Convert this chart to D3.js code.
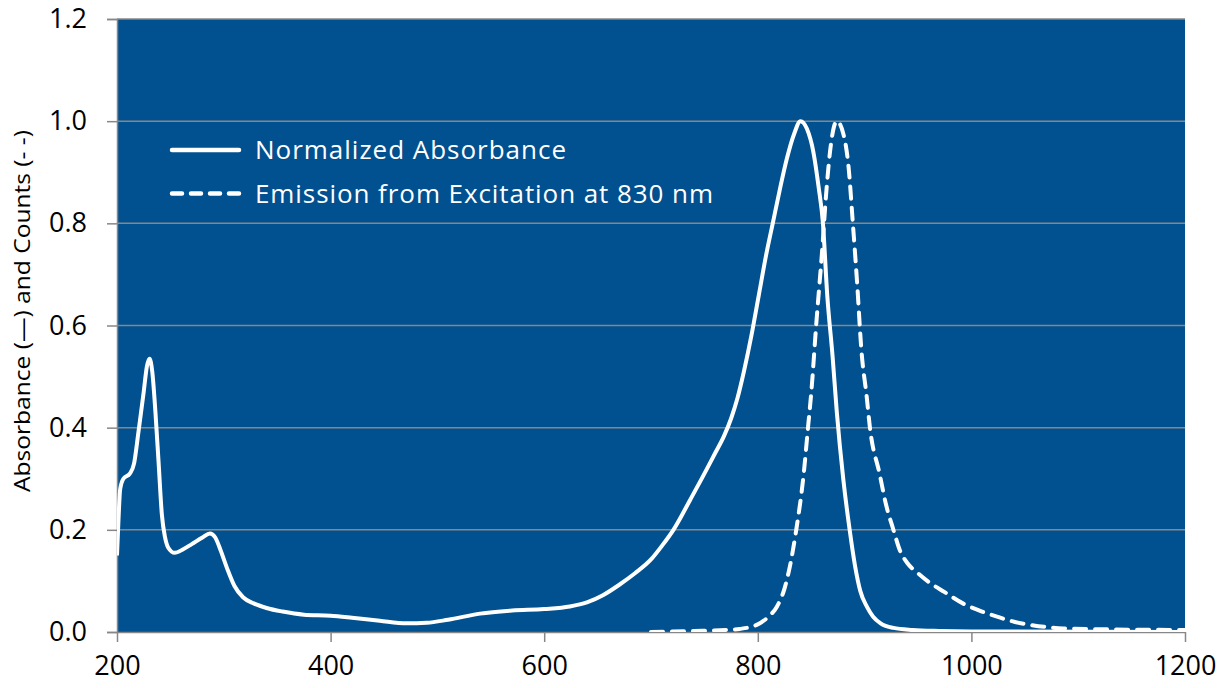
<!DOCTYPE html>
<html><head><meta charset="utf-8">
<script src="https://cdn.jsdelivr.net/npm/d3@7"></script>
<style>body{margin:0;background:#fff}svg{display:block}</style>
</head><body>
<svg id="chart" width="1220" height="688"></svg>
<script>
// Data
const absWavelength = [200,201,203,206,212,216,220,225,228,230.5,233,236,239,242,245,248,254,262,270,280,287,292,297,303,310,318,328,340,355,375,400,420,446,471,490,510,540,570,600,624,640,655,670,685,700,710,721,737,750,760,768,775,781,787,794,801,808,814,821,827,834,840,846,852,857,861,865,870,874,880,886,891,896,902,908,915,927,945,970,1000,1200];
const absValue = [0.15,0.2,0.28,0.30,0.31,0.33,0.39,0.47,0.52,0.535,0.51,0.43,0.33,0.23,0.185,0.165,0.155,0.162,0.172,0.185,0.193,0.185,0.16,0.125,0.09,0.068,0.056,0.047,0.04,0.034,0.032,0.028,0.022,0.017,0.018,0.024,0.036,0.042,0.045,0.05,0.058,0.072,0.092,0.115,0.142,0.168,0.2,0.26,0.31,0.35,0.382,0.418,0.458,0.51,0.58,0.66,0.74,0.80,0.87,0.925,0.975,1.0,0.985,0.94,0.87,0.80,0.66,0.54,0.43,0.30,0.20,0.13,0.08,0.05,0.03,0.017,0.008,0.004,0.002,0.001,0.0];
const emWavelength = [700,740,770,783,799,810,818,825,830,836,843,847,850,855,860,864.5,869,874,880,885,889,893,897,902,905,914,920,927,933,940,950,960,975,992,1010,1024,1040,1055,1086,1132,1200];
const emValue = [0.0,0.002,0.004,0.006,0.014,0.03,0.05,0.085,0.128,0.2,0.31,0.40,0.467,0.61,0.74,0.871,0.963,1.0,0.976,0.91,0.80,0.683,0.552,0.46,0.40,0.31,0.25,0.20,0.16,0.135,0.115,0.098,0.078,0.056,0.04,0.03,0.02,0.014,0.007,0.005,0.004];
const xTicks = [200,400,600,800,1000,1200];
const yTicks = [0,0.2,0.4,0.6,0.8,1.0,1.2];
const seriesNames = ["Normalized Absorbance","Emission from Excitation at 830 nm"];
const yTitle = "Absorbance (\u2014) and Counts (- -)";

const svg = d3.select("#chart");
const L = 117, R = 1185, T = 19, B = 632;
const x = d3.scaleLinear().domain([200,1200]).range([L,R]);
const y = d3.scaleLinear().domain([0,1.2]).range([B,T]);
const grey = "#878787";
const font = "'Open Sans', sans-serif";

svg.append("rect").attr("x",L).attr("y",T).attr("width",R-L).attr("height",B-T).attr("fill","#01508f");

// gridlines
svg.append("g").selectAll("line").data(yTicks.filter(d=>d>0)).join("line")
  .attr("x1",L).attr("x2",R).attr("y1",d=>y(d)).attr("y2",d=>y(d))
  .attr("stroke",grey).attr("stroke-width",1.5);

// axes
const yAxis = d3.axisLeft(y).tickValues(yTicks).tickFormat(d3.format(".1f")).tickSize(10).tickPadding(20);
const gy = svg.append("g").attr("transform",`translate(${L},0)`).call(yAxis);
const xAxis = d3.axisBottom(x).tickValues(xTicks).tickFormat(d3.format("d")).tickSize(10).tickPadding(14);
const gx = svg.append("g").attr("transform",`translate(0,${B})`).call(xAxis);
[gx,gy].forEach(g=>{
  g.select(".domain").attr("stroke",grey).attr("stroke-width",1.5);
  g.selectAll(".tick line").attr("stroke",grey).attr("stroke-width",1.5);
  g.selectAll(".tick text").attr("fill","#000").style("font-family",font).style("font-size","27px");
});
gx.select(".domain").attr("d",`M${L},0.5H${R}`);

// clip
svg.append("clipPath").attr("id","clip").append("rect").attr("x",L).attr("y",T-5).attr("width",R-L).attr("height",B-T+5);

const line = d3.line().x(d=>x(d[0])).y(d=>y(d[1])).curve(d3.curveMonotoneX);
const absData = absWavelength.map((w,i)=>[w,absValue[i]]);
const emData = emWavelength.map((w,i)=>[w,emValue[i]]);
const plot = svg.append("g").attr("clip-path","url(#clip)");
plot.append("path").datum(emData).attr("d",line).attr("fill","none").attr("stroke","#fff")
  .attr("stroke-width",4).attr("stroke-dasharray","12,9").attr("stroke-linecap","round");
plot.append("path").datum(absData).attr("d",line).attr("fill","none").attr("stroke","#fff")
  .attr("stroke-width",4).attr("stroke-linejoin","round");

// legend
const leg = svg.append("g");
const legY = [150,193.5];
leg.append("line").attr("x1",172).attr("x2",239).attr("y1",legY[0]).attr("y2",legY[0])
  .attr("stroke","#fff").attr("stroke-width",4.5).attr("stroke-linecap","round");
leg.append("line").attr("x1",172).attr("x2",239).attr("y1",legY[1]).attr("y2",legY[1])
  .attr("stroke","#fff").attr("stroke-width",4.5).attr("stroke-linecap","round").attr("stroke-dasharray","10,9");
leg.selectAll("text").data(seriesNames).join("text")
  .attr("x",255).attr("y",(d,i)=>legY[i]).attr("dy","0.35em")
  .attr("fill","#fff").style("font-family",font).style("font-size","26px")
  .attr("textLength",(d,i)=>i===0?311:458).attr("lengthAdjust","spacing")
  .text(d=>d);

// y title
svg.append("text").attr("transform","translate(30,311) rotate(-90)")
  .attr("text-anchor","middle").attr("fill","#000").style("font-family",font).style("font-size","21px")
  .attr("textLength",362).attr("lengthAdjust","spacingAndGlyphs")
  .text(yTitle);
</script>
</body></html>
